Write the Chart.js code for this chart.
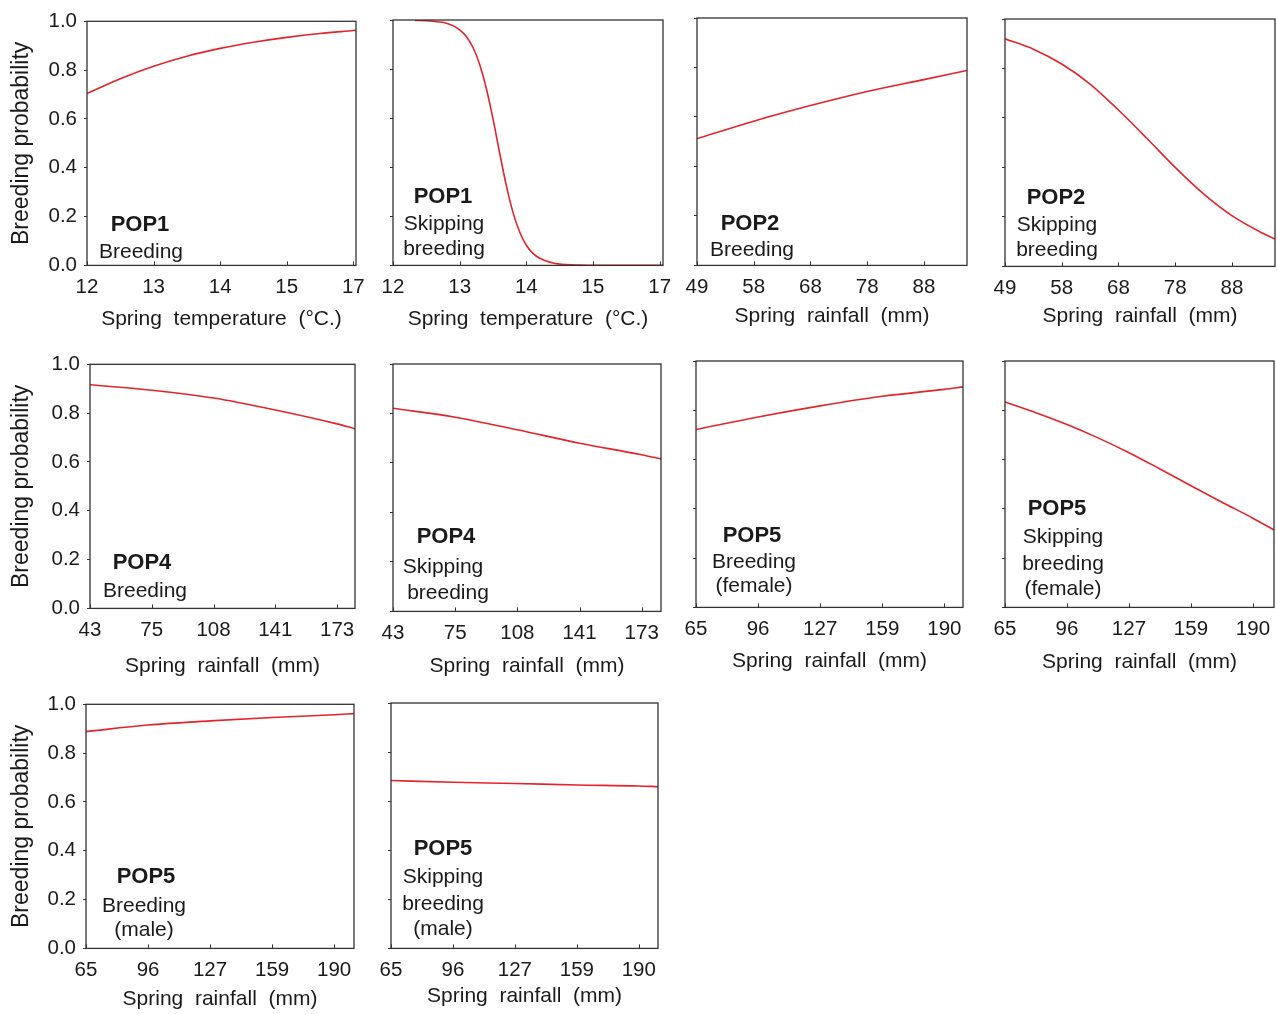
<!DOCTYPE html>
<html>
<head>
<meta charset="utf-8">
<script src="https://cdn.jsdelivr.net/npm/chart.js@4.4.1/dist/chart.umd.min.js"></script>
<style>
    html, body { margin: 0; padding: 0; background: #fff; overflow: hidden; }
    #wrap { position: relative; width: 1277px; height: 1014px; }
    #wrap canvas { position: absolute; }
</style>
</head>
<body>
<div id="wrap"></div>
<script>
'use strict';

// x values are in tick steps: 0 = first tick label, 1 = second one, ...
const tempTicks = ['12', '13', '14', '15', '17'];
const rainTicksPop2 = ['49', '58', '68', '78', '88'];
const rainTicksPop4 = ['43', '75', '108', '141', '173'];
const rainTicksPop5 = ['65', '96', '127', '159', '190'];
const probTicks = [0, 0.2, 0.4, 0.6, 0.8, 1.0];

const pop1BreedX = [0, 0.5, 1, 1.5, 2, 2.5, 3, 3.5, 4, 4.04];
const pop1BreedY = [0.704, 0.765, 0.816, 0.857, 0.889, 0.914, 0.934, 0.95, 0.962, 0.963];

const pop1SkipX = [0.33, 0.5, 0.6, 0.7, 0.8, 0.9, 1.0, 1.1, 1.2, 1.3, 1.4, 1.5, 1.6, 1.7, 1.8, 1.9, 2.0, 2.1, 2.2, 2.4, 2.6, 2.8, 3, 3.5, 4, 4.05];
const pop1SkipY = [0.998, 0.997, 0.995, 0.992, 0.987, 0.977, 0.96, 0.933, 0.888, 0.819, 0.721, 0.597, 0.458, 0.325, 0.216, 0.136, 0.082, 0.049, 0.029, 0.01, 0.003, 0.001, 0, 0, 0, 0];

const pop2BreedX = [0, 1, 2, 3, 4, 4.76];
const pop2BreedY = [0.512, 0.583, 0.646, 0.703, 0.751, 0.788];

const pop2SkipX = [0, 0.5, 1, 1.5, 2, 2.5, 3, 3.5, 4, 4.5, 4.76];
const pop2SkipY = [0.92, 0.878, 0.818, 0.737, 0.632, 0.518, 0.4, 0.293, 0.205, 0.139, 0.111];

const pop4BreedX = [0, 1, 2, 3, 4, 4.29];
const pop4BreedY = [0.916, 0.894, 0.862, 0.813, 0.756, 0.736];

const pop4SkipX = [0, 1, 2, 3, 4, 4.31];
const pop4SkipY = [0.821, 0.785, 0.734, 0.68, 0.633, 0.616];

const pop5BreedFX = [0, 1, 2, 3, 4, 4.3];
const pop5BreedFY = [0.722, 0.773, 0.818, 0.857, 0.885, 0.895];

const pop5SkipFX = [0, 0.5, 1, 1.5, 2, 2.5, 3, 3.5, 4, 4.34];
const pop5SkipFY = [0.834, 0.79, 0.742, 0.688, 0.628, 0.562, 0.494, 0.427, 0.362, 0.314];

const pop5BreedMX = [0, 1, 2, 3, 4, 4.32];
const pop5BreedMY = [0.888, 0.915, 0.932, 0.946, 0.957, 0.962];

const pop5SkipMX = [0, 1, 2, 3, 4, 4.31];
const pop5SkipMY = [0.684, 0.677, 0.672, 0.666, 0.662, 0.659];

const FONT = "'Liberation Sans', Arial, sans-serif";
const INK = '#1a1a1a';
const RED = '#e3242b';
const TEMP_TITLE = 'Spring  temperature  (°C.)';
const RAIN_TITLE = 'Spring  rainfall  (mm)';

// box = plot area [left, top, right, bottom] on the page, notes = [text, dx, baseline dy]
const panels = [
    { xs: pop1BreedX, ys: pop1BreedY, ticks: tempTicks, xMax: 4.04, title: TEMP_TITLE, first: true,
      box: [87, 20, 356, 266], gap: 54, notes: [['POP1', 53, 210], ['Breeding', 54, 237]] },
    { xs: pop1SkipX, ys: pop1SkipY, ticks: tempTicks, xMax: 4.05, title: TEMP_TITLE,
      box: [393, 20, 663, 266], gap: 54, notes: [['POP1', 50, 183], ['Skipping', 51, 210], ['breeding', 51, 235]] },
    { xs: pop2BreedX, ys: pop2BreedY, ticks: rainTicksPop2, xMax: 4.76, title: RAIN_TITLE,
      box: [697, 18, 967, 266], gap: 51, notes: [['POP2', 53, 212], ['Breeding', 55, 238]] },
    { xs: pop2SkipX, ys: pop2SkipY, ticks: rainTicksPop2, xMax: 4.76, title: RAIN_TITLE,
      box: [1005, 19, 1275, 267], gap: 50, notes: [['POP2', 51, 185], ['Skipping', 52, 212], ['breeding', 52, 237]] },
    { xs: pop4BreedX, ys: pop4BreedY, ticks: rainTicksPop4, xMax: 4.29, title: RAIN_TITLE, first: true,
      box: [90, 363, 355, 609], gap: 58, notes: [['POP4', 52, 205], ['Breeding', 55, 233]] },
    { xs: pop4SkipX, ys: pop4SkipY, ticks: rainTicksPop4, xMax: 4.31, title: RAIN_TITLE,
      box: [393, 364, 661, 612], gap: 55, notes: [['POP4', 53, 179], ['Skipping', 50, 209], ['breeding', 55, 235]] },
    { xs: pop5BreedFX, ys: pop5BreedFY, ticks: rainTicksPop5, xMax: 4.3, title: RAIN_TITLE,
      box: [696, 361, 963, 608], gap: 54, notes: [['POP5', 56, 181], ['Breeding', 58, 207], ['(female)', 58, 231]] },
    { xs: pop5SkipFX, ys: pop5SkipFY, ticks: rainTicksPop5, xMax: 4.34, title: RAIN_TITLE,
      box: [1005, 361, 1274, 608], gap: 55, notes: [['POP5', 52, 154], ['Skipping', 58, 182], ['breeding', 58, 209], ['(female)', 58, 234]] },
    { xs: pop5BreedMX, ys: pop5BreedMY, ticks: rainTicksPop5, xMax: 4.32, title: RAIN_TITLE, first: true,
      box: [86, 703, 354, 949], gap: 51, notes: [['POP5', 60, 179], ['Breeding', 58, 208], ['(male)', 58, 232]] },
    { xs: pop5SkipMX, ys: pop5SkipMY, ticks: rainTicksPop5, xMax: 4.31, title: RAIN_TITLE,
      box: [391, 703, 658, 949], gap: 48, notes: [['POP5', 52, 152], ['Skipping', 52, 180], ['breeding', 52, 207], ['(male)', 52, 232]] }
];

const PAD_TOP = 18;
const PAD_RIGHT = 24;
const TITLE_SIZE = 21;

// box round the plot area, inward x tick marks, in-plot labels
const framePlugin = {
    id: 'frame',
    afterDraw(chart) {
        const {ctx, chartArea: a} = chart;
        const xs = chart.scales.x;
        const notes = chart.options.plugins.frame.notes;
        ctx.save();
        ctx.strokeStyle = '#333';
        ctx.lineWidth = 1.3;
        ctx.strokeRect(a.left, a.top, a.right - a.left, a.bottom - a.top);

        ctx.lineWidth = 1;
        ctx.beginPath();
        xs.ticks.forEach(t => {
            const px = Math.round(xs.getPixelForValue(t.value)) + 0.5;
            ctx.moveTo(px, a.bottom);
            ctx.lineTo(px, a.bottom - 4);
        });
        ctx.stroke();

        ctx.fillStyle = INK;
        ctx.textAlign = 'center';
        ctx.textBaseline = 'alphabetic';
        notes.forEach(([text, dx, dy], i) => {
            ctx.font = (i === 0 ? 'bold 22px ' : '21px ') + FONT;
            ctx.fillText(text, a.left + dx, a.top + dy);
        });
        ctx.restore();
    }
};

function drawPanel(p) {
    const [left, top, right, bottom] = p.box;
    const axisH = p.gap + TITLE_SIZE * 1.2 / 2 + 2;
    const cLeft = p.first ? 0 : left - 32;
    const cTop = top - PAD_TOP;

    const canvas = document.createElement('canvas');
    canvas.width = right + PAD_RIGHT - cLeft;
    canvas.height = bottom + axisH - cTop;
    canvas.style.left = cLeft + 'px';
    canvas.style.top = cTop + 'px';
    document.getElementById('wrap').appendChild(canvas);

    new Chart(canvas.getContext('2d'), {
        type: 'line',
        data: {
            datasets: [{
                data: p.xs.map((x, i) => ({ x: x, y: p.ys[i] })),
                borderColor: RED,
                borderWidth: 1.6,
                pointRadius: 0,
                cubicInterpolationMode: 'monotone',
                fill: false
            }]
        },
        options: {
            responsive: false,
            animation: false,
            devicePixelRatio: 1,
            layout: { padding: { left: 0, top: PAD_TOP, right: PAD_RIGHT, bottom: 0 } },
            plugins: {
                legend: { display: false },
                tooltip: { enabled: false },
                frame: { notes: p.notes }
            },
            scales: {
                x: {
                    type: 'linear',
                    min: 0,
                    max: p.xMax,
                    afterBuildTicks: s => { s.ticks = p.ticks.map((_, i) => ({ value: i })); },
                    afterFit: s => { s.height = axisH; },
                    grid: { display: false, drawTicks: false },
                    border: { display: false },
                    ticks: {
                        autoSkip: false, maxRotation: 0, padding: 10, color: INK,
                        font: { family: FONT, size: 20.5 },
                        callback: (v, i) => p.ticks[i]
                    },
                    title: {
                        display: true, text: p.title, color: INK,
                        font: { family: FONT, size: TITLE_SIZE },
                        padding: { top: 0, bottom: 2 }
                    }
                },
                y: {
                    min: 0,
                    max: 1,
                    afterBuildTicks: s => { s.ticks = probTicks.map(v => ({ value: v })); },
                    afterFit: s => { s.width = left - cLeft; },
                    grid: { drawOnChartArea: false, drawTicks: true, tickLength: 3, color: '#333', lineWidth: 1 },
                    border: { display: false },
                    ticks: {
                        display: !!p.first, padding: 7, color: INK,
                        font: { family: FONT, size: 20.5 },
                        callback: v => v.toFixed(1)
                    },
                    title: {
                        display: !!p.first, text: 'Breeding probability', color: INK,
                        font: { family: FONT, size: 23 },
                        padding: { top: 8, bottom: 0 }
                    }
                }
            }
        },
        plugins: [framePlugin]
    });
}

panels.forEach(drawPanel);
</script>
</body>
</html>
